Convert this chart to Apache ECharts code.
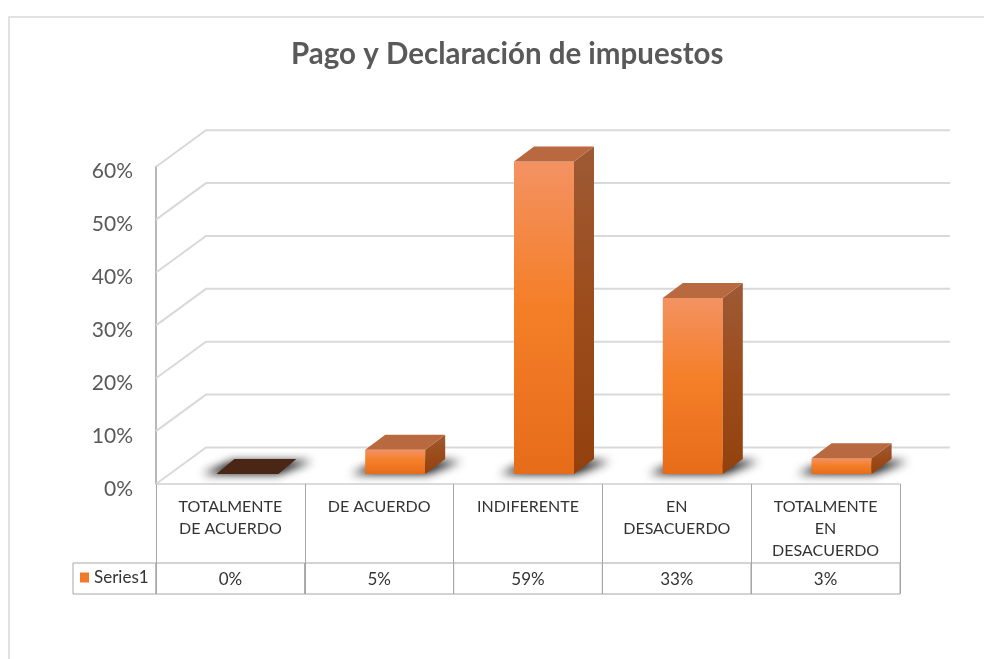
<!DOCTYPE html>
<html>
<head>
<meta charset="utf-8">
<title>Pago y Declaración de impuestos</title>
<script src="https://cdn.jsdelivr.net/npm/echarts@6/dist/echarts.min.js"></script>
<style>
  html, body { margin: 0; padding: 0; background: #fff; }
  #chart { width: 984px; height: 659px; }
</style>
</head>
<body>
<div id="chart"></div>
<script>
// data
const categories = ["TOTALMENTE\nDE ACUERDO", "DE ACUERDO", "INDIFERENTE", "EN\nDESACUERDO", "TOTALMENTE\nEN\nDESACUERDO"]
const values = [0, 0.046, 0.591, 0.333, 0.03]
const yTicks = [0, 0.1, 0.2, 0.3, 0.4, 0.5, 0.6]
const seriesName = "Series1"

// fake 3D geometry (pixels)
const WALL = [50, -36.5]     // back wall shift from the front plane
const BAR_POS = [16, -10]    // bar front face shift from the floor edge
const BAR_DEPTH = [20, -15]
const BAR_W = 60
const FAR = 3000             // shadow shape is drawn off screen, only its blur shows
const FONT = "Lato, 'Open Sans', sans-serif"
const pct = v => Math.round(v * 100) + "%"

const chart = echarts.init(document.getElementById("chart"))

function renderWall(params, api) {
  const cs = params.coordSys
  const y = api.coord([0, api.value(1)])[1]
  return {
    type: "polyline",
    shape: { points: [[cs.x, y], [cs.x + WALL[0], y + WALL[1]], [cs.x + cs.width + WALL[0], y + WALL[1]]] },
    style: { stroke: "#D9D9D9", lineWidth: 2, fill: "none" },
  }
}

function renderBar(params, api) {
  const i = api.value(0), v = api.value(1)
  const base = api.coord([i, 0])
  const top = api.coord([i, v])
  const x0 = base[0] + BAR_POS[0] - BAR_W / 2, x1 = x0 + BAR_W
  const yb = base[1] + BAR_POS[1], yt = top[1] + BAR_POS[1]
  const [dx, dy] = BAR_DEPTH
  const kids = [{
    type: "polygon",
    shape: { points: [[x0 - 14 - FAR, yb], [x1 + 2 - FAR, yb], [x1 + dx + 16 - FAR, yb + dy + 2], [x0 + dx - 4 - FAR, yb + dy + 2]] },
    style: { fill: "#000", shadowBlur: 10, shadowColor: "rgba(0,0,0,0.95)", shadowOffsetX: FAR },
  }]
  if (v <= 0) {
    kids.push({
      type: "polygon",
      shape: { points: [[x0, yb], [x1 + 2, yb], [x1 + dx, yb + dy], [x0 + dx - 2, yb + dy]] },
      style: { fill: "#4A2616" },
    })
  } else {
    kids.push({
      type: "rect",
      shape: { x: x0, y: yt, width: BAR_W, height: yb - yt },
      style: { fill: new echarts.graphic.LinearGradient(0, 0, 0, 1, [
        { offset: 0, color: "#F39262" }, { offset: 0.45, color: "#F57F29" }, { offset: 1, color: "#E66C1A" }]) },
    })
    kids.push({
      type: "polygon",
      shape: { points: [[x1, yb], [x1, yt], [x1 + dx, yt + dy], [x1 + dx, yb + dy]] },
      style: { fill: new echarts.graphic.LinearGradient(0, 0, 0, 1, [
        { offset: 0, color: "#9E5A35" }, { offset: 0.5, color: "#9C4C1B" }, { offset: 1, color: "#92410E" }]) },
    })
    kids.push({
      type: "polygon",
      shape: { points: [[x0, yt], [x1, yt], [x1 + dx, yt + dy], [x0 + dx, yt + dy]] },
      style: { fill: "#B9693F" },
    })
  }
  return { type: "group", children: kids }
}

function renderTable(params, api) {
  const i = api.value(0)
  const c = api.coord([i, 0])
  const w = api.size([1, 0])[0]
  const cs = params.coordSys
  const yTop = c[1] + 79, yBot = c[1] + 110
  const line = { fill: "none", stroke: "#A6A6A6", lineWidth: 1 }
  const kids = [
    { type: "rect", shape: { x: c[0] - w / 2, y: yTop, width: w, height: yBot - yTop }, style: line },
    { type: "text", style: {
      text: pct(api.value(1)), x: c[0], y: (yTop + yBot) / 2 + 1, align: "center", verticalAlign: "middle",
      fontSize: 17, fontFamily: FONT, fill: "#333" } },
  ]
  if (i === 0) kids.push({ type: "rect", shape: { x: cs.x - 83, y: yTop, width: 83, height: yBot - yTop }, style: line })
  return { type: "group", children: kids }
}

chart.setOption({
  animation: false,
  title: {
    text: "Pago y Declaración de impuestos",
    left: 286, top: 34,
    textStyle: { color: "#595959", fontSize: 29.5, fontWeight: "bold", fontFamily: FONT },
  },
  legend: {
    data: [seriesName],
    left: 80, top: 569, padding: 0,
    itemWidth: 9, itemHeight: 10, icon: "rect",
    textStyle: { color: "#333", fontSize: 17, fontFamily: FONT },
  },
  graphic: [{
    type: "rect", shape: { x: 9, y: 17, width: 1000, height: 700 },
    style: { fill: "none", stroke: "#D9D9D9", lineWidth: 1.5 }, silent: true,
  }],
  grid: { left: 156, right: 84, top: 166.7, bottom: 175 },
  xAxis: {
    type: "category",
    data: categories,
    axisLine: { show: true, lineStyle: { color: "#CFCFCF", width: 1.5 } },
    axisTick: { show: true, length: 110, interval: 0, lineStyle: { color: "#A6A6A6" } },
    axisLabel: { interval: 0, color: "#333", fontSize: 16, fontFamily: FONT, lineHeight: 22, margin: 12 },
    splitLine: { show: false },
  },
  yAxis: {
    type: "value",
    min: 0, max: 0.6, interval: 0.1,
    axisLine: { show: true, lineStyle: { color: "#A0A0A0", width: 1.5 } },
    axisTick: { show: false },
    splitLine: { show: false },
    axisLabel: { color: "#595959", fontSize: 21, fontFamily: FONT, margin: 23,
      verticalAlign: "top", lineHeight: 10, formatter: v => pct(v) },
  },
  series: [
    { type: "custom", name: "wall", silent: true, renderItem: renderWall,
      encode: { x: 0, y: 1 }, data: yTicks.map(v => [0, v]), z: 1 },
    { type: "custom", name: seriesName, renderItem: renderBar, itemStyle: { color: "#F07A2A" },
      encode: { x: 0, y: 1 }, data: values.map((v, i) => [i, v]), z: 3 },
    { type: "custom", name: "table", silent: true, renderItem: renderTable,
      encode: { x: 0, y: 1 }, data: values.map((v, i) => [i, v]), z: 3 },
  ],
})
window.addEventListener("resize", () => chart.resize(), { passive: true })
</script>
</body>
</html>
